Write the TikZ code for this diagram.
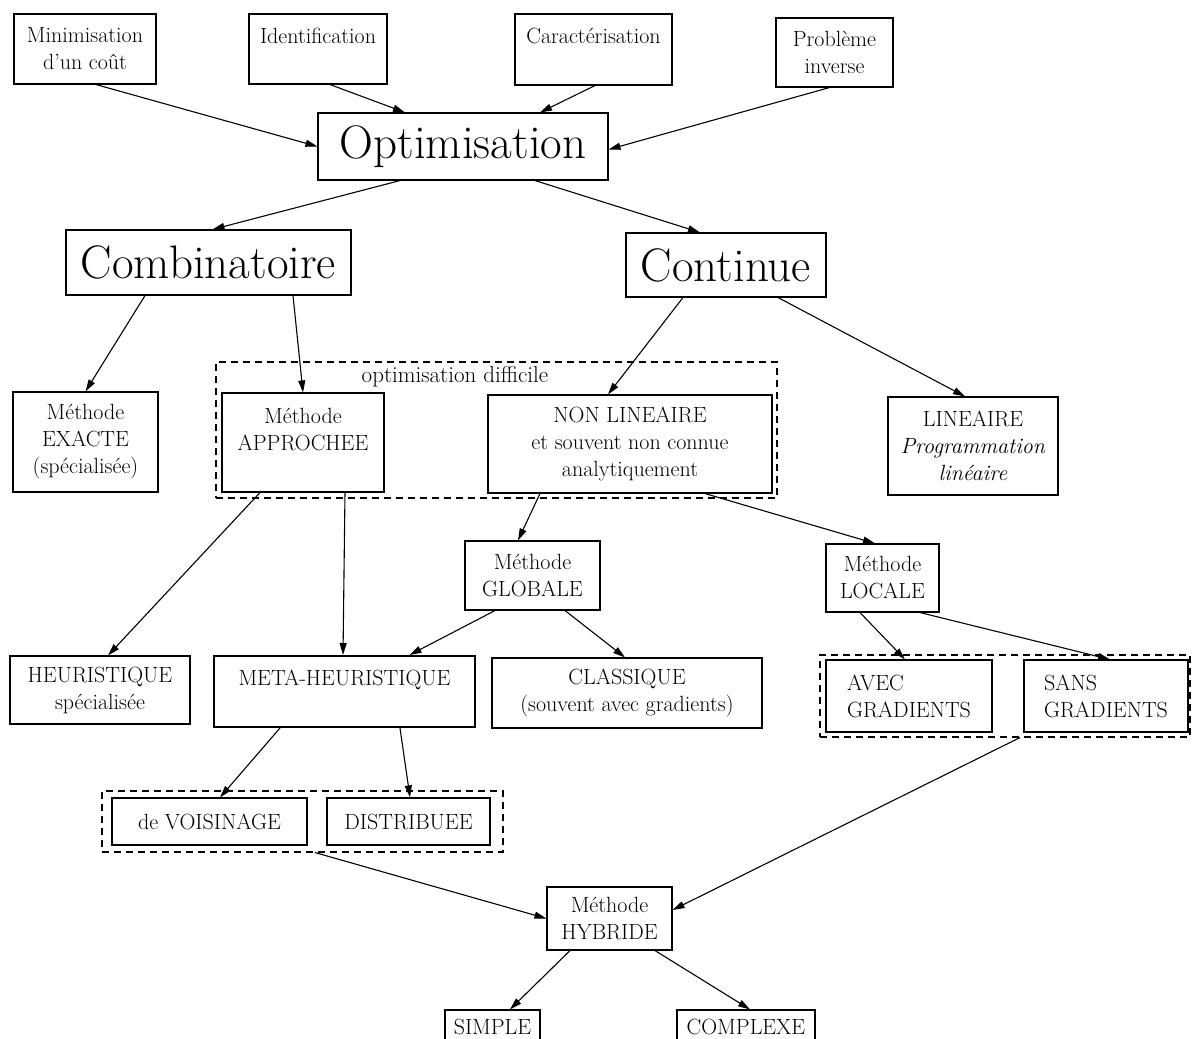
\documentclass[tikz,border=0pt]{standalone}
\usepackage{fontspec}
\usetikzlibrary{arrows.meta}
\begin{document}
\begin{tikzpicture}[x=1pt,y=-1pt,
  box/.style={draw, line width=1.1pt, inner sep=0pt, align=center,
    font=\fontsize{22}{27}\selectfont},
  bigbox/.style={box, font=\fontsize{47}{52}\selectfont},
  group/.style={draw, line width=1.1pt, dash pattern=on 7pt off 5pt, inner sep=0pt},
  arr/.style={line width=1.1pt, -{Triangle[length=12pt,width=7pt]}},
  lbl/.style={font=\fontsize{23}{26}\selectfont, inner sep=0pt}
]
\fill[white] (0,0) rectangle (1192,1039);
\useasboundingbox (0,0) rectangle (1192,1039);

% dashed groupings
\node[group, minimum width=561pt, minimum height=136pt] (gdiff) at (496.5,430) {};
\node[lbl] (ldiff) at (455,377) {optimisation difficile};
\node[group, minimum width=370pt, minimum height=82pt] (ggrad) at (1005,696) {};
\node[group, minimum width=401pt, minimum height=61pt] (gvois) at (302.5,821.5) {};

% top row
\node[box, minimum width=142pt, minimum height=70pt] (min) at (85,49) {Minimisation\\d'un coût};
\node[box, minimum width=138pt, minimum height=70pt] (ident) at (318,49) {Identification\\\mbox{}};
\node[box, minimum width=157pt, minimum height=71pt] (carac) at (593.5,49.5) {Caractérisation\\\mbox{}};
\node[box, minimum width=117pt, minimum height=69pt] (prob) at (834.5,52.5) {Problème\\inverse};

% main levels
\node[bigbox, minimum width=290pt, minimum height=67pt] (opt) at (463,146.5) {Optimisation};
\node[bigbox, minimum width=285pt, minimum height=65pt] (comb) at (208.5,262.5) {Combinatoire};
\node[bigbox, minimum width=200pt, minimum height=64pt] (cont) at (726,265) {Continue};

% method level
\node[box, minimum width=145pt, minimum height=100pt] (exacte) at (85.5,442) {Méthode\\EXACTE\\(spécialisée)};
\node[box, minimum width=162pt, minimum height=99pt] (appro) at (303,442.5) {Méthode\\APPROCHEE\\\mbox{}};
\node[box, minimum width=284pt, minimum height=98pt] (nonlin) at (630,444) {NON LINEAIRE\\et souvent non connue\\analytiquement};
\node[box, minimum width=170pt, minimum height=98pt] (lin) at (973,446) {LINEAIRE\\\textit{Programmation}\\\textit{linéaire}};

\node[box, minimum width=135pt, minimum height=69pt] (glob) at (532.5,575.5) {Méthode\\GLOBALE};
\node[box, minimum width=113pt, minimum height=68pt] (loc) at (882.5,578) {Méthode\\LOCALE};

\node[box, minimum width=180pt, minimum height=68pt] (heur) at (100,690) {HEURISTIQUE\\spécialisée};
\node[box, line width=2pt, minimum width=261pt, minimum height=71pt] (meta) at (344.5,691.5) {META-HEURISTIQUE\\\mbox{}};
\node[box, minimum width=270pt, minimum height=70pt] (classi) at (627,693) {CLASSIQUE\\(souvent avec gradients)};
\node[box, align=left, minimum width=166pt, minimum height=72pt] (avec) at (909,696) {AVEC\\GRADIENTS};
\node[box, align=left, minimum width=164pt, minimum height=72pt] (sans) at (1106,696) {SANS\\GRADIENTS};

\node[box, minimum width=195pt, minimum height=47pt] (vois) at (209.5,821.5) {de VOISINAGE};
\node[box, minimum width=163pt, minimum height=47pt] (distr) at (408.5,821.5) {DISTRIBUEE};

\node[box, minimum width=125pt, minimum height=63pt] (hyb) at (609.5,918.5) {Méthode\\HYBRIDE};
\node[box, minimum width=95pt, minimum height=60pt] (simple) at (492.5,1040) {SIMPLE\\\mbox{}};
\node[box, minimum width=138pt, minimum height=60pt] (complexe) at (746,1040) {COMPLEXE\\\mbox{}};

% connectors
\draw[arr] ([xshift=11pt]min.south) -- (opt.west);
\draw[arr] ([xshift=12pt]ident.south) -- ([xshift=-58pt]opt.north);
\draw[arr] ([xshift=1.5pt]carac.south) -- ([xshift=77pt]opt.north);
\draw[arr] ([xshift=-5pt]prob.south) -- ([yshift=-3pt]opt.east);

\draw[arr] ([xshift=-63pt]opt.south) -- ([xshift=4pt]comb.north);
\draw[arr] ([xshift=72pt]opt.south) -- ([xshift=-26pt]cont.north);

\draw[arr] ([xshift=-63.5pt]comb.south) -- (exacte.north);
\draw[arr] ([xshift=84.5pt]comb.south) -- (appro.north);
\draw[arr] ([xshift=-43pt]cont.south) -- ([xshift=-22pt]nonlin.north);
\draw[arr] ([xshift=52pt]cont.south) -- ([xshift=-8pt]lin.north);

\draw[arr] ([xshift=-43pt]appro.south) -- ([xshift=8pt]heur.north);
\draw[arr] ([xshift=42pt]appro.south) -- ([xshift=-1.5pt]meta.north);
\draw[arr] ([xshift=-90pt]nonlin.south) -- ([xshift=-14.5pt]glob.north);
\draw[arr] ([xshift=75pt]nonlin.south) -- ([xshift=-7.5pt]loc.north);

\draw[arr] ([xshift=-37.5pt]glob.south) -- ([xshift=65pt]meta.north);
\draw[arr] ([xshift=32.5pt]glob.south) -- ([xshift=-2pt]classi.north);
\draw[arr] ([xshift=-22.5pt]loc.south) -- ([xshift=-4pt]avec.north);
\draw[arr] ([xshift=37.5pt]loc.south) -- ([xshift=4pt]sans.north);

\draw[arr] ([xshift=-64.5pt]meta.south) -- ([xshift=10.5pt]vois.north);
\draw[arr] ([xshift=55.5pt]meta.south) -- ([xshift=1.5pt]distr.north);

\draw[arr] ([xshift=12.5pt]gvois.south) -- (hyb.west);
\draw[arr] ([xshift=15pt]ggrad.south) -- ([yshift=8.5pt]hyb.east);

\draw[arr] ([xshift=-39.5pt]hyb.south) -- ([xshift=17.5pt]simple.north);
\draw[arr] ([xshift=45.5pt]hyb.south) -- ([xshift=4pt]complexe.north);
\end{tikzpicture}
\end{document}
